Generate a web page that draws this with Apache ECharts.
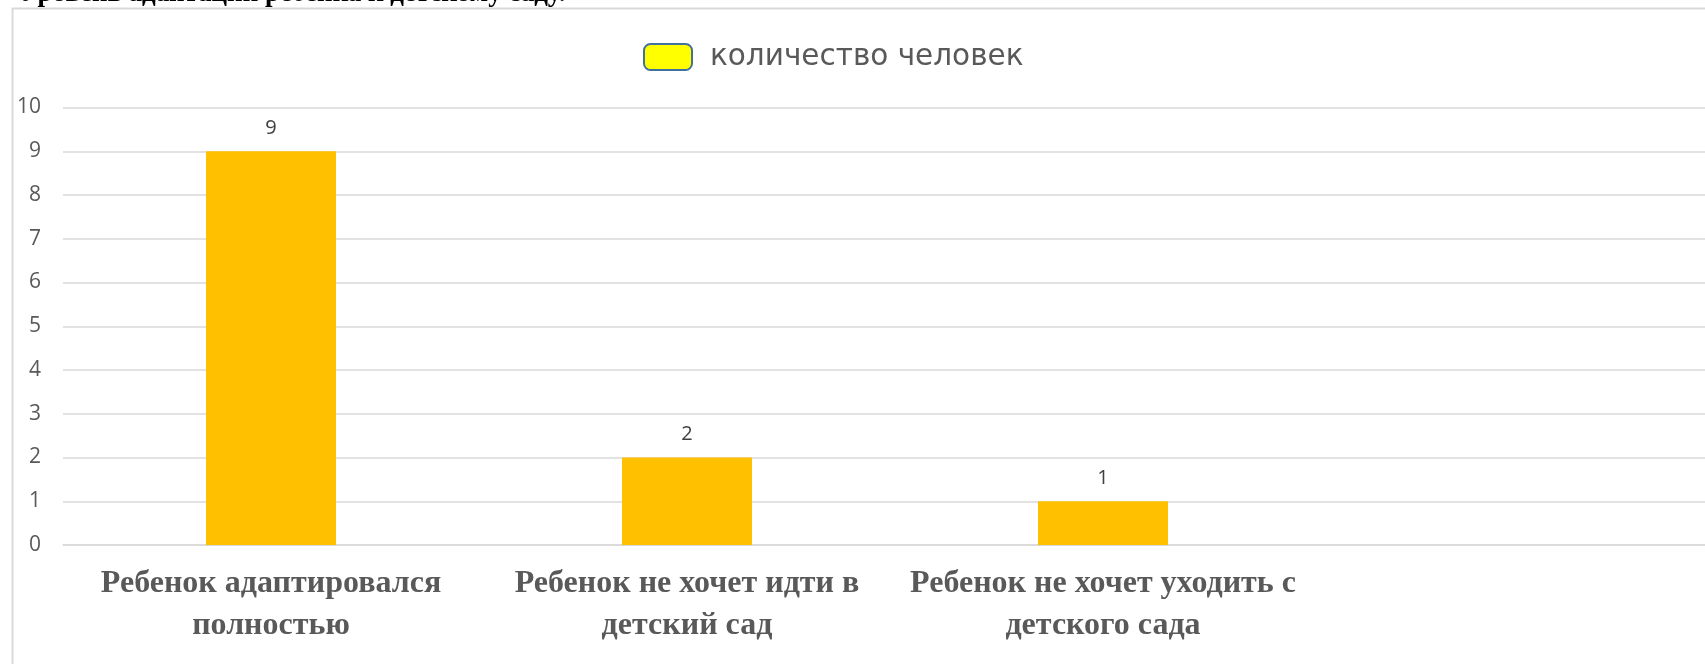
<!DOCTYPE html>
<html>
<head>
<meta charset="utf-8">
<script src="https://cdn.jsdelivr.net/npm/echarts@6/dist/echarts.min.js"></script>
<style>
html, body { margin: 0; padding: 0; background: #fff; overflow: hidden; }
/* the chart area runs past the right edge of the picture, so the div is wider than the window */
#chart { width: 1740px; height: 664px; }
</style>
</head>
<body>
<div id="chart"></div>
<script>
// категории (последняя пустая, как в исходной таблице)
const categories = [
  'Ребенок адаптировался\nполностью',
  'Ребенок не хочет идти в\nдетский сад',
  'Ребенок не хочет уходить с\nдетского сада',
  ''
];
const counts = [9, 2, 1, null];
const seriesName = 'количество человек';
const pageTitle = 'Уровень адаптации ребенка к детскому саду.';

const chart = echarts.init(document.getElementById('chart'));

const option = {
  backgroundColor: '#fff',
  animation: false,
  graphic: [
    {
      type: 'text',
      x: 20, y: 8,
      style: {
        text: pageTitle,
        font: 'bold 27px "Liberation Serif"',
        fill: '#000',
        verticalAlign: 'bottom'
      },
      silent: true
    },
    {
      type: 'rect',
      shape: { x: 12.5, y: 8.5, width: 1800, height: 800 },
      style: { fill: '#fff', stroke: '#D9D9D9', lineWidth: 2 },
      z: -10,
      silent: true
    }
  ],
  legend: {
    left: 638,
    top: 37,
    itemWidth: 48,
    itemHeight: 26,
    icon: 'roundRect',
    data: [{
      name: seriesName,
      itemStyle: { color: '#FFFF00', borderColor: '#41719C', borderWidth: 2 }
    }],
    textStyle: {
      color: '#595959',
      fontSize: 29.5,
      fontFamily: 'DejaVu Sans',
      padding: [0, 0, 0, 13]
    }
  },
  grid: {
    left: 63,
    right: 13,
    top: 107.5,
    bottom: 119,
    containLabel: false
  },
  xAxis: {
    type: 'category',
    data: categories,
    axisLine: { show: true, lineStyle: { color: '#D9D9D9', width: 1.5 } },
    axisTick: { show: false },
    axisLabel: {
      interval: 0,
      margin: 18,
      color: '#595959',
      fontFamily: 'Liberation Serif',
      fontWeight: 'bold',
      fontSize: 32,
      lineHeight: 42,
      align: 'center'
    }
  },
  yAxis: {
    type: 'value',
    min: 0,
    max: 10,
    interval: 1,
    axisLine: { show: false },
    axisTick: { show: false },
    splitLine: { lineStyle: { color: '#D9D9D9', width: 1.5 } },
    axisLabel: {
      margin: 22,
      color: '#595959',
      fontFamily: 'Open Sans',
      fontSize: 21
    }
  },
  series: [
    {
      name: seriesName,
      type: 'bar',
      data: counts,
      barWidth: 130,
      itemStyle: { color: '#FFC000' },
      label: {
        show: true,
        position: 'top',
        distance: 13,
        color: '#404040',
        fontFamily: 'Open Sans',
        fontSize: 20
      }
    }
  ]
};

chart.setOption(option);
</script>
</body>
</html>
